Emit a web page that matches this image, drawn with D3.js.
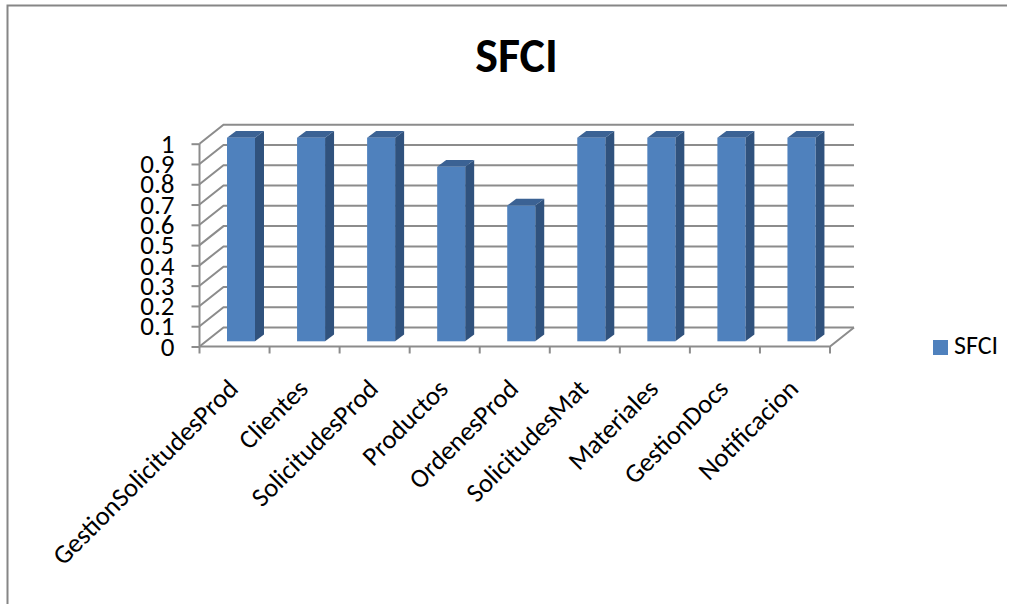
<!DOCTYPE html>
<html>
<head>
<meta charset="utf-8">
<script src="https://cdn.jsdelivr.net/npm/d3@7/dist/d3.min.js"></script>
<style>
html,body{margin:0;padding:0;background:#fff;}
svg{display:block;}
text{font-family:Carlito,Calibri,"Open Sans","Noto Sans",sans-serif;fill:#000;}
</style>
</head>
<body>
<svg id="chart" width="1015" height="604"></svg>
<script>
const categories = ["GestionSolicitudesProd","Clientes","SolicitudesProd","Productos","OrdenesProd","SolicitudesMat","Materiales","GestionDocs","Notificacion"];
const sfciValues = [1,1,1,0.857,0.667,1,1,1,1];
const yTicks = [0,0.1,0.2,0.3,0.4,0.5,0.6,0.7,0.8,0.9,1];
const seriesName = "SFCI";
const chartTitle = "SFCI";

const svg = d3.select("#chart");
const gridColor = "#8c8c8c";
const depth = {x:24, y:-19};
const barDepth = {x:9, y:-6.8};

const x = d3.scaleBand().domain(categories).range([199.5,830]).paddingInner(0).paddingOuter(0);
const y = d3.scaleLinear().domain([0,1]).range([346.5,143.7]);
const barY = d3.scaleLinear().domain([0,1]).range([341.3,137.7]);

// chart frame: only the top and left edges are visible
svg.append("path").attr("d","M7.5,604V5.5H1007").attr("fill","none").attr("stroke","#868686").attr("stroke-width",2);

// back wall gridlines and side wall diagonals
const wall = svg.append("g").attr("fill","none").attr("stroke",gridColor).attr("stroke-width",2);
wall.selectAll("path.grid").data(yTicks).join("path").attr("class","grid")
  .attr("d",d=>`M${x.range()[0]},${y(d)}l${depth.x},${depth.y}H${x.range()[1]+depth.x}`);
// floor front edge and right edge
wall.append("path").attr("d",`M${x.range()[0]},${y(0)}H${x.range()[1]}l${depth.x},${depth.y}`);
// vertical axis line
wall.append("path").attr("d",`M${x.range()[0]},${y(1)}V${y(0)}`);

// value axis ticks and labels
const yAxis = d3.axisLeft(y).tickValues(yTicks).tickSize(8).tickFormat(d3.format("~g"));
const gy = svg.append("g").attr("transform",`translate(${x.range()[0]},0)`).call(yAxis);
gy.select(".domain").remove();
gy.selectAll("line").attr("stroke",gridColor).attr("stroke-width",2);
gy.selectAll("text").attr("font-size",27).attr("x",-25).attr("dy","0.32em");

// category ticks and rotated labels
const gx = svg.append("g").attr("transform",`translate(0,${y(0)})`);
const tickXs = categories.map(c=>x(c)).concat([x.range()[1]]);
gx.selectAll("line").data(tickXs).join("line")
  .attr("x1",d=>d).attr("x2",d=>d).attr("y1",0).attr("y2",7)
  .attr("stroke",gridColor).attr("stroke-width",2);
gx.selectAll("text").data(categories).join("text")
  .attr("text-anchor","end").attr("font-size",26.5)
  .attr("transform",c=>`translate(${x(c)+x.bandwidth()/2+5},44) rotate(-45)`)
  .text(c=>c);

// 3D bars: front face, right side, top
const bars = svg.append("g").selectAll("g").data(categories.map((c,i)=>({c,v:sfciValues[i]}))).join("g");
const barLeft = d=>x(d.c)+27.5;
const barW = 28;
bars.append("path").attr("fill","#30527d").attr("d",d=>`M${barLeft(d)+barW},${barY(d.v)}l${barDepth.x},${barDepth.y}V${barY(0)+barDepth.y}l${-barDepth.x},${-barDepth.y}Z`);
bars.append("path").attr("fill","#3b6294").attr("d",d=>`M${barLeft(d)},${barY(d.v)}l${barDepth.x},${barDepth.y}h${barW}l${-barDepth.x},${-barDepth.y}Z`);
bars.append("rect").attr("fill","#4f81bd").attr("x",barLeft).attr("y",d=>barY(d.v)).attr("width",barW).attr("height",d=>barY(0)-barY(d.v));

// title
svg.append("text").attr("x",516.5).attr("y",72).attr("text-anchor","middle").attr("font-size",48).attr("font-weight","bold").text(chartTitle);

// legend
svg.append("rect").attr("x",933).attr("y",340).attr("width",15).attr("height",15).attr("fill","#4f81bd");
svg.append("text").attr("x",954).attr("y",354).attr("font-size",26).text(seriesName);
</script>
</body>
</html>
